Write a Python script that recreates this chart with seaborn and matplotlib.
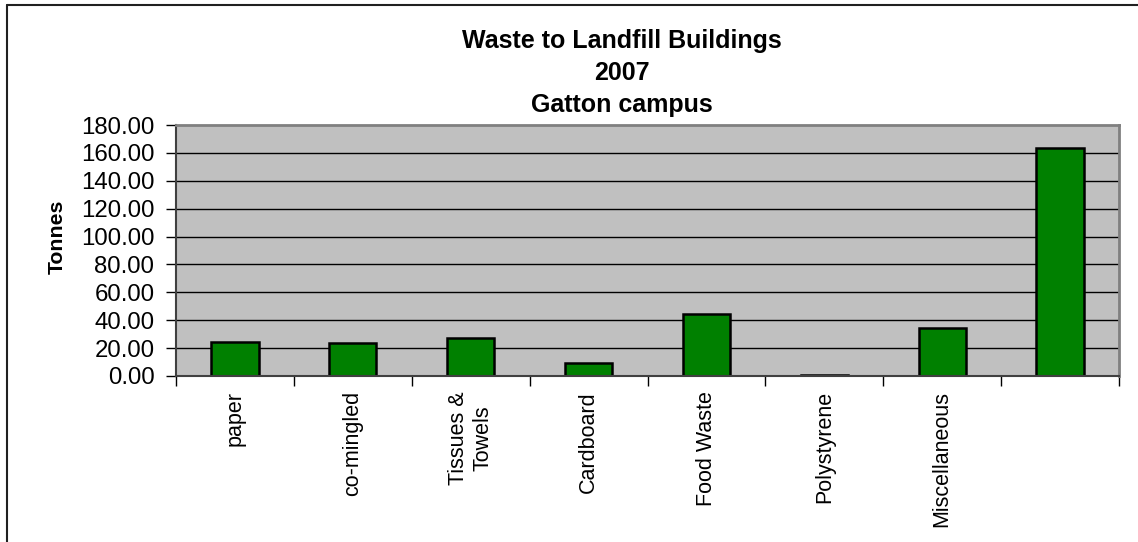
import matplotlib
matplotlib.use("Agg")
import matplotlib.pyplot as plt
import seaborn as sns
import numpy as np
import pandas as pd
from matplotlib.lines import Line2D
from matplotlib.ticker import FormatStrFormatter, FixedLocator

# Chart data
categories = ["paper", "co-mingled", "Tissues &\nTowels", "Cardboard",
              "Food Waste", "Polystyrene", "Miscellaneous", ""]
tonnes = [24.6, 23.9, 27.0, 9.3, 44.4, 0.5, 34.4, 163.2]
y_ticks = [0, 20, 40, 60, 80, 100, 120, 140, 160, 180]
title_lines = ["Waste to Landfill Buildings", "2007", "Gatton campus"]

sns.set_style("white")
plt.rcParams['font.family'] = ['Liberation Sans', 'DejaVu Sans']
plt.rcParams['text.color'] = 'black'
plt.rcParams['xtick.color'] = 'black'
plt.rcParams['ytick.color'] = 'black'

data = pd.DataFrame({'cat': [f"c{i}" for i in range(len(categories))], 'Tonnes': tonnes})

fig = plt.figure(figsize=(11.38, 5.42), dpi=100)
ax = fig.add_axes([176 / 1138, 1 - 376 / 542, (1119 - 176) / 1138, (376 - 125) / 542])
ax.set_facecolor('#C0C0C0')

sns.barplot(data=data, x='cat', y='Tonnes', color='#008000', saturation=1,
            edgecolor='black', linewidth=1.8, width=0.4, ax=ax)

ax.set_xlim(-0.5, len(categories) - 0.5)
ax.set_ylim(0, 180)
ax.set_yticks(y_ticks)
ax.yaxis.set_major_formatter(FormatStrFormatter('%.2f'))
for v in y_ticks[1:-1]:
    ax.axhline(v, color='black', lw=1, zorder=0.5)

# Excel-style ticks between categories, labels at centers
ax.xaxis.set_major_locator(FixedLocator(np.arange(-0.5, len(categories), 1.0)))
ax.xaxis.set_minor_locator(FixedLocator(np.arange(len(categories))))
ax.set_xticklabels([], minor=False)
ax.set_xticklabels(categories, minor=True, rotation=90, va='top', ha='center',
                   multialignment='center', fontsize=15.5)
ax.tick_params(axis='x', which='major', length=7, width=1, direction='out', bottom=True)
ax.tick_params(axis='x', which='minor', length=0, pad=11)
ax.tick_params(axis='y', length=7, width=1, direction='out', left=True,
               labelsize=17.3, pad=8.5)
ax.set_xlabel('')
ax.set_ylabel('')

for side in ['top', 'right']:
    ax.spines[side].set_color('#808080')
    ax.spines[side].set_linewidth(2)
ax.spines['left'].set_color('#404040')
ax.spines['left'].set_linewidth(1.5)
ax.spines['bottom'].set_color('#404040')
ax.spines['bottom'].set_linewidth(1.5)

fig.text(57 / 1138, 1 - 237 / 542, 'Tonnes', rotation=90, ha='center', va='center',
         fontsize=15.3, fontweight='bold')
fig.text(622 / 1138, 1 - 73 / 542, "\n".join(title_lines), ha='center', va='center',
         fontsize=18, fontweight='bold', linespacing=1.42)

# outer chart border (left and top only, the rest is cropped)
fig.add_artist(Line2D([7 / 1138, 7 / 1138], [0, 1 - 5 / 542], color='#202020', lw=1.5,
                      transform=fig.transFigure))
fig.add_artist(Line2D([7 / 1138, 1], [1 - 5 / 542, 1 - 5 / 542], color='#202020', lw=1.5,
                      transform=fig.transFigure))

plt.savefig('out.png', dpi=100, facecolor='white')
